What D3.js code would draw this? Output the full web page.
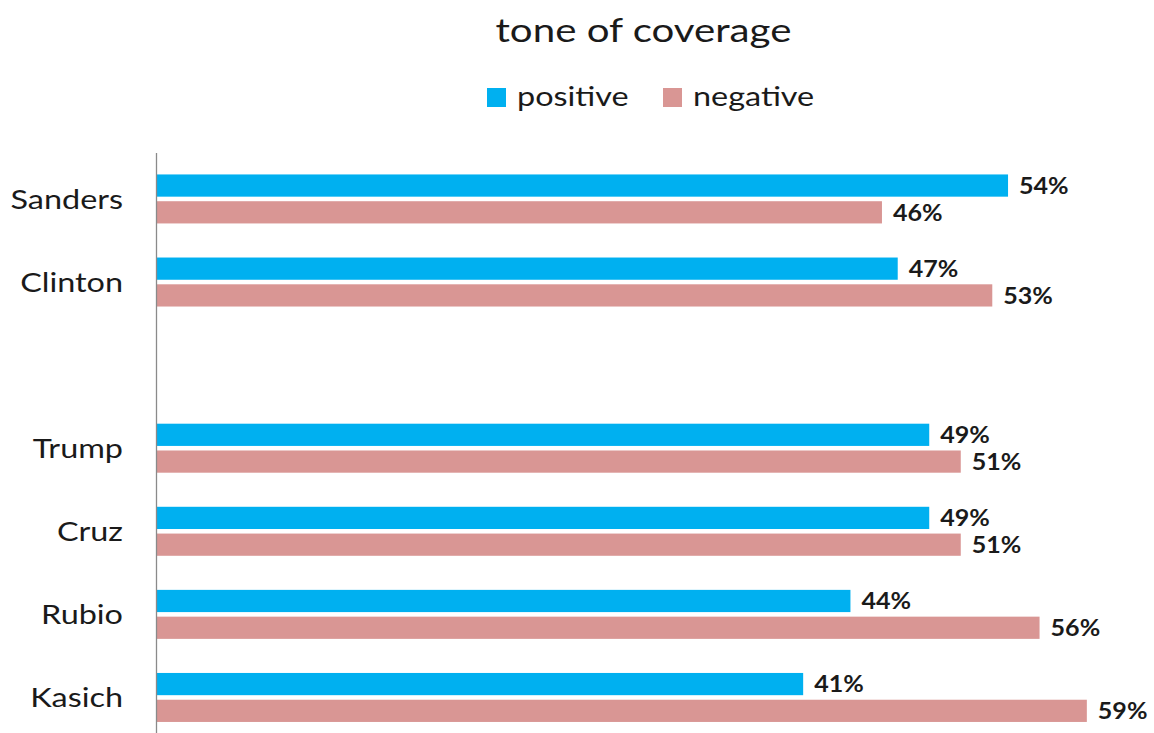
<!DOCTYPE html>
<html>
<head>
<meta charset="utf-8">
<script src="https://cdn.jsdelivr.net/npm/d3@7"></script>
<style>
  html, body { margin: 0; padding: 0; background: #fff; }
  svg { display: block; }
  text { font-family: Lato, "Open Sans", sans-serif; }
</style>
</head>
<body>
<svg id="chart" width="1154" height="733"></svg>
<script>
const categories = ["Sanders", "Clinton", "", "Trump", "Cruz", "Rubio", "Kasich"];
const positive = [54, 47, null, 49, 49, 44, 41];
const negative = [46, 53, null, 51, 51, 56, 59];
const seriesNames = ["positive", "negative"];
const seriesColors = ["#00B0F0", "#D99694"];
const title = "tone of coverage";

const svg = d3.select("#chart");
const W = 1154, H = 733;
svg.append("rect").attr("width", W).attr("height", H).attr("fill", "#fff");

// text helper with horizontal stretch (reference font is wider than Lato)
function addText(px, py, str, opts) {
  const t = svg.append("text")
    .attr("transform", `translate(${px},${py}) scale(${opts.sx || 1},1)`)
    .attr("x", 0).attr("y", 0)
    .attr("font-size", opts.size)
    .attr("fill", "#1a1a1a")
    .text(str);
  if (opts.anchor) t.attr("text-anchor", opts.anchor);
  if (opts.bold) t.attr("font-weight", "bold");
  if (opts.dy) t.attr("dy", opts.dy);
  return t;
}

const x = d3.scaleLinear().domain([0, 60]).range([157, 157 + 60 * 15.76]);
const keys = categories.map((c, i) => "k" + i);
const y = d3.scaleBand().domain(keys).range([157.4, 739]).padding(0);
const inner = d3.scaleBand().domain(seriesNames).range([-24.5, 24.5]).paddingInner(0.17);

const rows = categories.map((c, i) => ({ key: keys[i], cat: c, values: [positive[i], negative[i]] }));

// bars
const g = svg.append("g");
rows.forEach(r => {
  const cy = y(r.key) + y.bandwidth() / 2;
  r.values.forEach((v, j) => {
    if (v == null) return;
    const s = seriesNames[j];
    g.append("rect")
      .attr("x", x(0))
      .attr("y", cy + inner(s))
      .attr("width", x(v) - x(0))
      .attr("height", inner.bandwidth())
      .attr("fill", seriesColors[j]);
    addText(x(v) + 11, cy + inner(s) + inner.bandwidth() / 2, v + "%",
      { size: 23, bold: true, sx: 1.09, dy: "0.36em" });
  });
});

// category labels
rows.forEach(r => {
  if (!r.cat) return;
  const cy = y(r.key) + y.bandwidth() / 2;
  addText(123, cy, r.cat, { size: 27, sx: 1.2, anchor: "end", dy: "0.36em" });
});

// axis line
svg.append("line")
  .attr("x1", x(0) - 0.5).attr("x2", x(0) - 0.5)
  .attr("y1", 153).attr("y2", H)
  .attr("stroke", "#8a8a8a").attr("stroke-width", 1.3);

// title
addText(643.5, 42, title, { size: 33, sx: 1.22, anchor: "middle" });

// legend
const legendX = [487, 663];
seriesNames.forEach((s, j) => {
  svg.append("rect")
    .attr("x", legendX[j]).attr("y", 88)
    .attr("width", 19).attr("height", 19)
    .attr("fill", seriesColors[j]);
  addText(legendX[j] + 30, 106, s, { size: 27, sx: 1.2 });
});
</script>
</body>
</html>
